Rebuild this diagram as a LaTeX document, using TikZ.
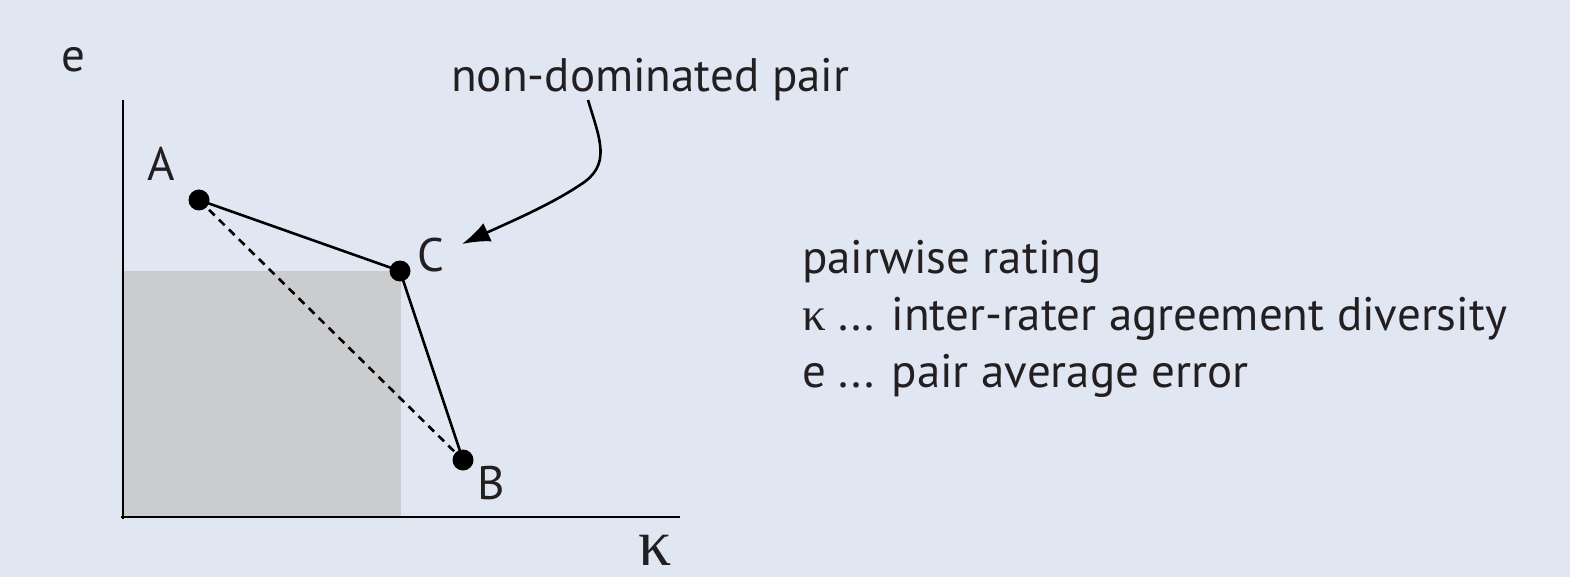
\documentclass[tikz,border=0pt]{standalone}
\usepackage{fontspec}
\setmainfont{PT Sans}
\newfontfamily\grk{Liberation Serif}
\usetikzlibrary{arrows.meta}
\definecolor{bgc}{RGB}{224,231,243}
\definecolor{shadegray}{RGB}{203,204,206}
\definecolor{ink}{RGB}{35,31,32}
\tikzset{
  lbl/.style={font=\fontsize{47}{52}\selectfont, text=ink, inner sep=0pt},
  dot/.style={circle, fill=black, minimum size=21pt, inner sep=0pt},
  axis/.style={line width=2.9pt, black},
  edge/.style={line width=2.6pt, black},
}
\begin{document}
\begin{tikzpicture}[x=1pt,y=-1pt]
\fill[bgc] (0,0) rectangle (1570,577);
\useasboundingbox (0,0) rectangle (1570,577);
\fill[shadegray] (123,271) rectangle (401,517);
\coordinate (o) at (123,517);
\coordinate (ytop) at (123,100);
\coordinate (xend) at (680,517);
\draw[axis] (ytop) -- (123,519);
\draw[axis] (121,517) -- (xend);
\node[lbl] (e) at (73,60) {e};
\node[lbl, font=\fontsize{66}{70}\grk] (k) at (655,550) {κ};
\node[dot] (A) at (199,200) {};
\node[dot] (C) at (400,271) {};
\node[dot] (B) at (463,460) {};
\draw[edge] (A.center) -- (C.center) -- (B.center);
\draw[edge, dash pattern=on 8pt off 6pt] (A.center) -- (B.center);
\node[lbl] (la) at (161,164) {A};
\node[lbl] (lc) at (431,255) {C};
\node[lbl] (lb) at (491,483) {B};
\node[lbl, anchor=base west] (nd) at (451,92) {non-dominated pair};
\coordinate (s) at (588,100);
\coordinate (t) at (462,244);
\draw[edge, -{Latex[length=28pt,width=20pt]}] (s) .. controls (600,140) and (612,165) .. (580,185) .. controls (550,205) and (510,222) .. (t);
\node[lbl, anchor=base west] (l1) at (802,273) {pairwise rating};
\node[lbl, anchor=base west] (l2) at (802,330) {{\grk κ} ... inter-rater agreement diversity};
\node[lbl, anchor=base west] (l3) at (802,387) {e ... pair average error};
\end{tikzpicture}
\end{document}
